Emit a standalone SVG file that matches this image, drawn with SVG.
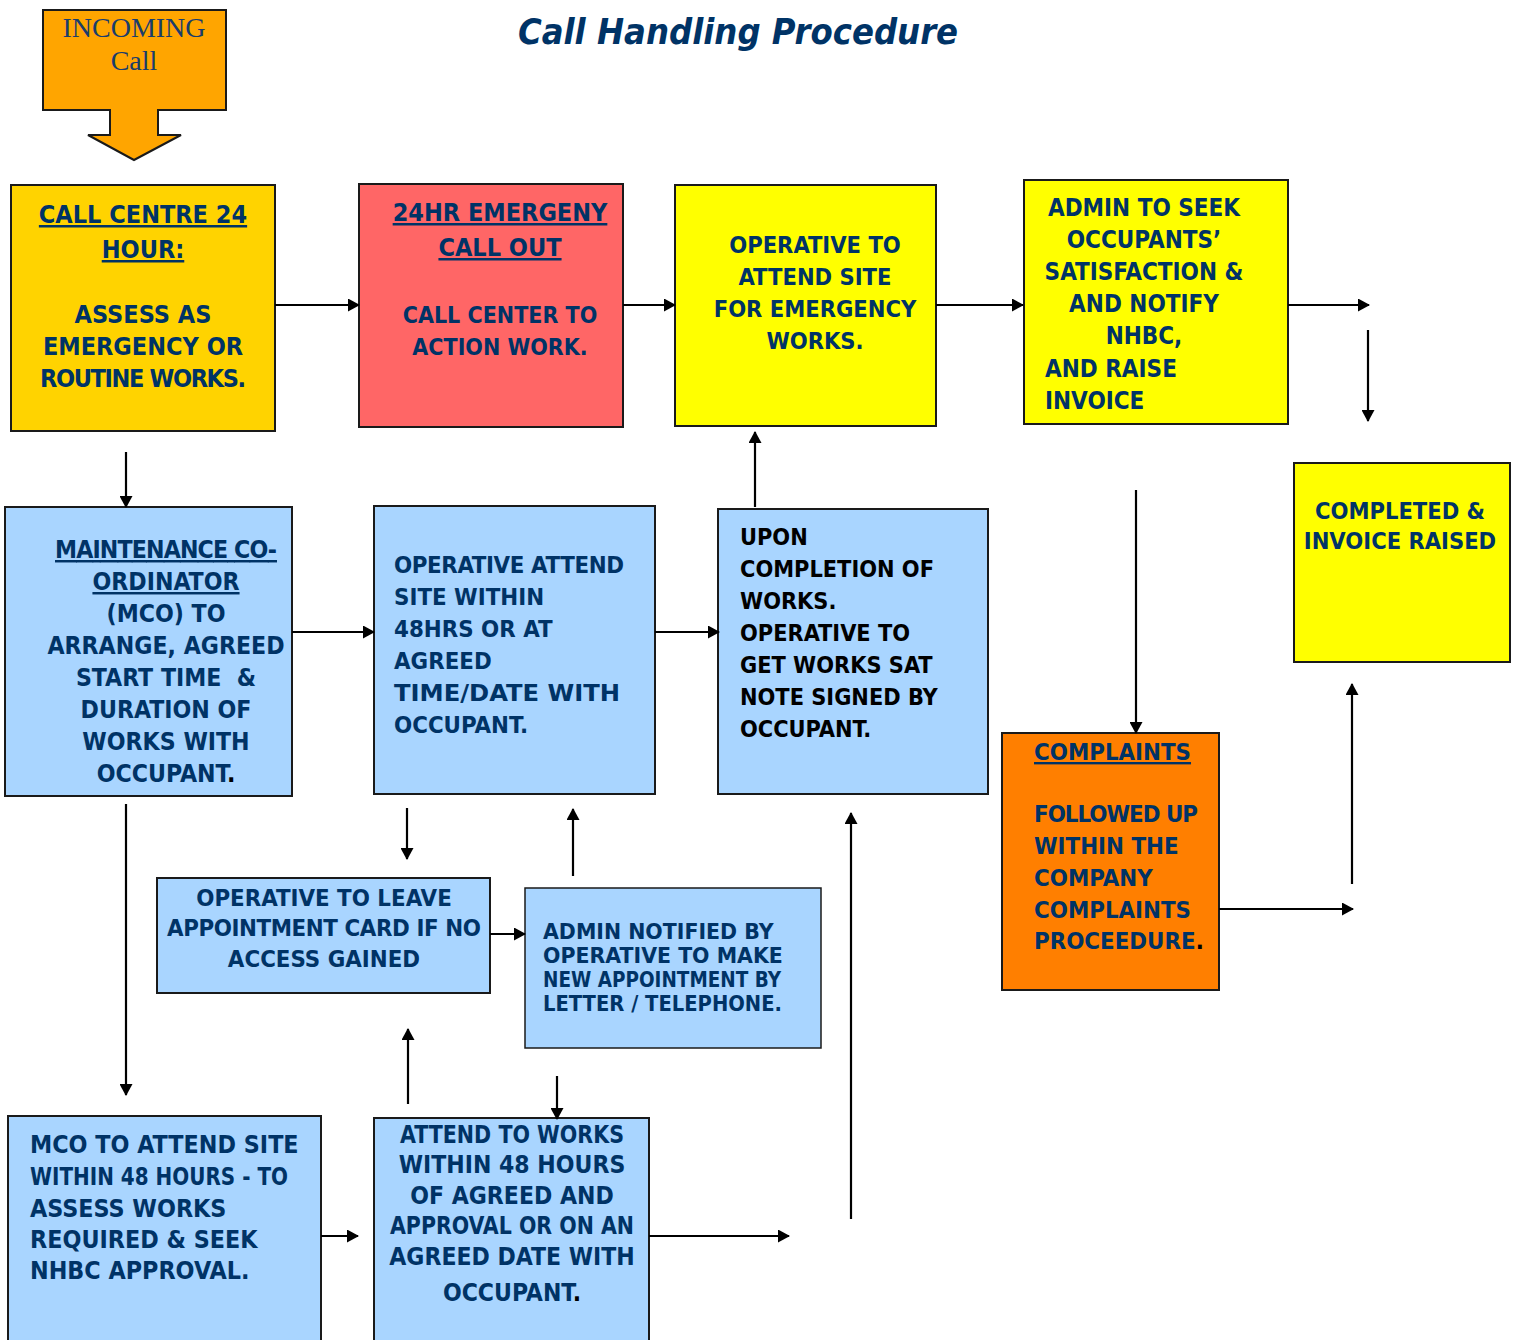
<svg xmlns="http://www.w3.org/2000/svg" width="1519" height="1340" viewBox="0 0 1519 1340">
<style>
.box{stroke:#1a1a1a;stroke-width:2}
.gold{fill:#FFD300}.red{fill:#FF6666}.yel{fill:#FFFF00}.blue{fill:#A9D5FF}.org{fill:#FF7F00}
.t{font-family:"DejaVu Sans Condensed","DejaVu Sans",sans-serif;font-weight:bold;fill:#003366}
.c{text-anchor:middle}
.u{text-decoration:underline}
.k{fill:#000}
.v{font-family:"DejaVu Sans",Verdana,sans-serif;font-weight:bold;font-size:20.5px;fill:#003366}
.ln{stroke:#000;stroke-width:2.2;fill:none;marker-end:url(#ah)}
</style>
<defs>
<marker id="ah" viewBox="0 0 12 13" refX="11" refY="6.5" markerWidth="12" markerHeight="13" markerUnits="userSpaceOnUse" orient="auto">
<path d="M0,0 L12,6.5 L0,13 z" fill="#000"/>
</marker>
</defs>
<rect width="1519" height="1340" fill="#fff"/>
<text x="738" y="44" text-anchor="middle" style="font-family:'DejaVu Sans Condensed','DejaVu Sans',sans-serif;font-weight:bold;font-style:italic;font-size:36px;fill:#003366">Call Handling Procedure</text>

<g id="incoming">
<path class="box" d="M43,10 H226 V110 H158 V135 H181 L134,160 L88,135 H110 V110 H43 Z" fill="#FFA500"/>
<text x="134" y="37" text-anchor="middle" style="font-family:'Liberation Serif',serif;font-size:28px;fill:#1a3d6b">INCOMING</text>
<text x="134" y="70" text-anchor="middle" style="font-family:'Liberation Serif',serif;font-size:28px;fill:#1a3d6b">Call</text>
</g>

<g id="callcentre" style="font-size:25px">
<rect class="box gold" x="11" y="185" width="264" height="246"/>
<text class="t c u" x="143" y="223">CALL CENTRE 24</text>
<text class="t c u" x="143" y="258">HOUR:</text>
<text class="t c" x="143" y="323">ASSESS AS</text>
<text class="t c" x="143" y="355">EMERGENCY OR</text>
<text class="t c" x="143" y="387" textLength="206">ROUTINE WORKS.</text>
</g>

<g id="emergency" style="font-size:23px">
<rect class="box red" x="359" y="184" width="264" height="243"/>
<text class="t c u" x="500" y="221" style="font-size:25px">24HR EMERGENY</text>
<text class="t c u" x="500" y="256" style="font-size:25px">CALL OUT</text>
<text class="t c" x="500" y="323">CALL CENTER TO</text>
<text class="t c" x="500" y="355">ACTION WORK.</text>
</g>

<g id="operative-emergency" style="font-size:23.5px">
<rect class="box yel" x="675" y="185" width="261" height="241"/>
<text class="t c" x="815" y="253">OPERATIVE TO</text>
<text class="t c" x="815" y="285">ATTEND SITE</text>
<text class="t c" x="815" y="317">FOR EMERGENCY</text>
<text class="t c" x="815" y="349">WORKS.</text>
</g>

<g id="admin-seek" style="font-size:24px">
<rect class="box yel" x="1024" y="180" width="264" height="244"/>
<text class="t c" x="1144" y="216">ADMIN TO SEEK</text>
<text class="t c" x="1144" y="248">OCCUPANTS’</text>
<text class="t c" x="1144" y="280">SATISFACTION &amp;</text>
<text class="t c" x="1144" y="312">AND NOTIFY</text>
<text class="t c" x="1144" y="344">NHBC,</text>
<text class="t" x="1045" y="377">AND RAISE</text>
<text class="t" x="1045" y="409">INVOICE</text>
</g>

<g id="completed" style="font-size:23.5px">
<rect class="box yel" x="1294" y="463" width="216" height="199"/>
<text class="t c" x="1400" y="519">COMPLETED &amp;</text>
<text class="t c" x="1400" y="549">INVOICE RAISED</text>
</g>

<g id="mco" style="font-size:24.6px">
<rect class="box blue" x="5" y="507" width="287" height="289"/>
<text class="t c u" x="166" y="558" textLength="222">MAINTENANCE CO-</text>
<text class="t c u" x="166" y="590">ORDINATOR</text>
<text class="t c" x="166" y="622">(MCO) TO</text>
<text class="t c" x="166" y="654">ARRANGE, AGREED</text>
<text class="t c" x="166" y="686" xml:space="preserve">START TIME  &amp;</text>
<text class="t c" x="166" y="718">DURATION OF</text>
<text class="t c" x="166" y="750">WORKS WITH</text>
<text class="t c" x="166" y="782">OCCUPANT<tspan class="k">.</tspan></text>
</g>

<g id="operative-attend" style="font-size:23.8px">
<rect class="box blue" x="374" y="506" width="281" height="288"/>
<text class="t" x="394" y="573" textLength="230">OPERATIVE ATTEND</text>
<text class="t" x="394" y="605">SITE WITHIN</text>
<text class="t" x="394" y="637">48HRS OR AT</text>
<text class="t" x="394" y="669">AGREED</text>
<text class="t" x="394" y="701" textLength="226" lengthAdjust="spacingAndGlyphs">TIME/DATE WITH</text>
<text class="t" x="394" y="733">OCCUPANT.</text>
</g>

<g id="upon-completion" style="font-size:23.3px">
<rect class="box blue" x="718" y="509" width="270" height="285"/>
<text class="t k" x="740" y="545">UPON</text>
<text class="t k" x="740" y="577">COMPLETION OF</text>
<text class="t k" x="740" y="609">WORKS.</text>
<text class="t k" x="740" y="641">OPERATIVE TO</text>
<text class="t k" x="740" y="673">GET WORKS SAT</text>
<text class="t k" x="740" y="705">NOTE SIGNED BY</text>
<text class="t k" x="740" y="737">OCCUPANT.</text>
</g>

<g id="complaints" style="font-size:23.8px">
<rect class="box org" x="1002" y="733" width="217" height="257"/>
<text class="t u" x="1034" y="760">COMPLAINTS</text>
<text class="t" x="1034" y="822" textLength="164">FOLLOWED UP</text>
<text class="t" x="1034" y="854">WITHIN THE</text>
<text class="t" x="1034" y="886">COMPANY</text>
<text class="t" x="1034" y="918">COMPLAINTS</text>
<text class="t" x="1034" y="949">PROCEEDURE<tspan class="k">.</tspan></text>
</g>

<g id="appointment-card" style="font-size:23.8px">
<rect class="box blue" x="157" y="878" width="333" height="115"/>
<text class="t c" x="324" y="906">OPERATIVE TO LEAVE</text>
<text class="t c" x="324" y="936" textLength="314">APPOINTMENT CARD IF NO</text>
<text class="t c" x="324" y="967">ACCESS GAINED</text>
</g>

<g id="admin-notified">
<rect class="box blue" x="525" y="888" width="296" height="160" style="stroke-width:1.5"/>
<text class="v" x="543" y="939">ADMIN NOTIFIED BY</text>
<text class="v" x="543" y="963">OPERATIVE TO MAKE</text>
<text class="v" x="543" y="987" textLength="238" lengthAdjust="spacingAndGlyphs">NEW APPOINTMENT BY</text>
<text class="v" x="543" y="1011" textLength="239" lengthAdjust="spacingAndGlyphs">LETTER / TELEPHONE.</text>
</g>

<g id="mco-attend" style="font-size:24.8px">
<rect class="box blue" x="8" y="1116" width="313" height="240"/>
<text class="t" x="30" y="1153">MCO TO ATTEND SITE</text>
<text class="t" x="30" y="1185" textLength="258" lengthAdjust="spacingAndGlyphs">WITHIN 48 HOURS - TO</text>
<text class="t" x="30" y="1217">ASSESS WORKS</text>
<text class="t" x="30" y="1248">REQUIRED &amp; SEEK</text>
<text class="t" x="30" y="1279">NHBC APPROVAL.</text>
</g>

<g id="attend-works" style="font-size:24.5px">
<rect class="box blue" x="374" y="1118" width="275" height="240"/>
<text class="t c" x="512" y="1143" textLength="224" lengthAdjust="spacingAndGlyphs">ATTEND TO WORKS</text>
<text class="t c" x="512" y="1173">WITHIN 48 HOURS</text>
<text class="t c" x="512" y="1204">OF AGREED AND</text>
<text class="t c" x="512" y="1234" textLength="244" lengthAdjust="spacingAndGlyphs">APPROVAL OR ON AN</text>
<text class="t c" x="512" y="1265">AGREED DATE WITH</text>
<text class="t c" x="512" y="1301">OCCUPANT<tspan class="k">.</tspan></text>
</g>

<g id="connectors">
<path class="ln" d="M275,305 H359"/>
<path class="ln" d="M623,305 H675"/>
<path class="ln" d="M936,305 H1023"/>
<path class="ln" d="M1288,305 H1369"/>
<path class="ln" d="M1368,330 V421"/>
<path class="ln" d="M126,452 V507"/>
<path class="ln" d="M292,632 H374"/>
<path class="ln" d="M655,632 H719"/>
<path class="ln" d="M755,507 V432"/>
<path class="ln" d="M1136,490 V733"/>
<path class="ln" d="M126,804 V1095"/>
<path class="ln" d="M407,808 V859"/>
<path class="ln" d="M573,876 V809"/>
<path class="ln" d="M490,934 H525"/>
<path class="ln" d="M851,1219 V813"/>
<path class="ln" d="M1219,909 H1353"/>
<path class="ln" d="M1352,884 V684"/>
<path class="ln" d="M408,1104 V1029"/>
<path class="ln" d="M557,1076 V1119"/>
<path class="ln" d="M321,1236 H358"/>
<path class="ln" d="M649,1236 H789"/>
</g>
</svg>
